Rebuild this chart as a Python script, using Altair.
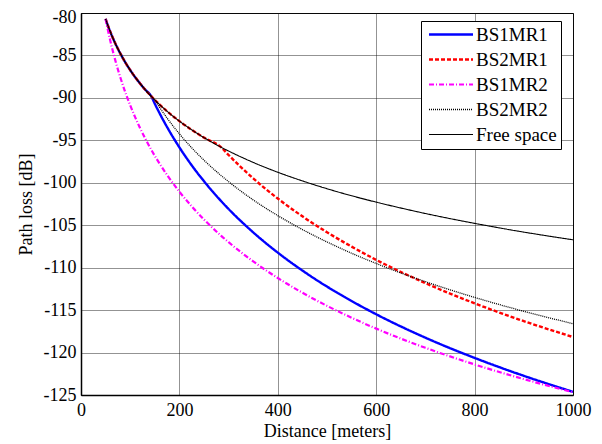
import altair as alt
import pandas as pd

# Distance grid (meters)
distance = [50, 55, 60, 65, 70, 75, 80, 90, 100, 110, 120, 130, 143, 150, 160, 175,
            200, 225, 250, 285, 300, 350, 400, 450, 500, 550, 600, 700, 800, 900, 1000]

series_names = ["BS1MR1", "BS2MR1", "BS1MR2", "BS2MR2", "Free space"]

bs1mr1 = [-80.70, -81.53, -82.28, -82.98, -83.62, -84.22, -84.78, -85.81, -86.72, -87.55,
          -88.30, -89.00, -89.83, -90.69, -91.84, -93.44, -95.83, -97.94, -99.82, -102.17,
          -103.09, -105.84, -108.23, -110.34, -112.23, -113.93, -115.49, -118.25, -120.63,
          -122.74, -124.63]
bs2mr1 = [-80.70, -81.53, -82.28, -82.98, -83.62, -84.22, -84.78, -85.81, -86.72, -87.55,
          -88.30, -89.00, -89.83, -90.24, -90.80, -91.58, -92.74, -93.76, -94.68, -95.82,
          -96.73, -99.48, -101.86, -103.95, -105.83, -107.52, -109.08, -111.82, -114.20,
          -116.30, -118.17]
bs1mr2 = [-80.70, -82.10, -83.38, -84.55, -85.64, -86.65, -87.60, -89.33, -90.87, -92.27,
          -93.55, -94.73, -96.13, -96.83, -97.77, -99.09, -101.05, -102.78, -104.33, -106.25,
          -107.00, -109.26, -111.22, -112.95, -114.50, -115.90, -117.18, -119.44, -121.40,
          -123.13, -124.67]
bs2mr2 = [-80.70, -81.53, -82.28, -82.98, -83.62, -84.22, -84.78, -85.81, -86.72, -87.55,
          -88.30, -89.00, -89.83, -90.24, -91.14, -92.38, -94.24, -95.88, -97.34, -99.16,
          -99.87, -102.02, -103.87, -105.51, -106.97, -108.30, -109.51, -111.65, -113.50,
          -115.14, -116.60]
free_space = [-80.70, -81.53, -82.28, -82.98, -83.62, -84.22, -84.78, -85.81, -86.72, -87.55,
              -88.30, -89.00, -89.83, -90.24, -90.80, -91.58, -92.74, -93.76, -94.68, -95.82,
              -96.26, -97.60, -98.76, -99.78, -100.70, -101.53, -102.28, -103.62, -104.78,
              -105.81, -106.72]

x_ticks = [0, 200, 400, 600, 800, 1000]
y_ticks = [-125, -120, -115, -110, -105, -100, -95, -90, -85, -80]

colors = ["#0000ff", "#ff0000", "#ff00ff", "#000000", "#000000"]
dashes = [[1, 0], [4, 2], [5, 2, 1, 2], [1, 1], [1, 0]]
widths = [2.4, 2.4, 2.2, 1.3, 1.1]

rows = []
for name, vals in zip(series_names, [bs1mr1, bs2mr1, bs1mr2, bs2mr2, free_space]):
    for d, v in zip(distance, vals):
        rows.append({"series": name, "d": d, "loss": v})
df = pd.DataFrame(rows)

FONT = "Liberation Serif"

chart = alt.Chart(df).mark_line(interpolate="monotone", clip=True).encode(
    x=alt.X("d:Q", scale=alt.Scale(domain=[0, 1000], nice=False),
            axis=alt.Axis(values=x_ticks, title="Distance [meters]", labelExpr="'' + datum.value",
                          labelFont=FONT, titleFont=FONT,
                          labelPadding=6, titlePadding=3, labelFlush=False, labelOverlap=False)),
    y=alt.Y("loss:Q", scale=alt.Scale(domain=[-125, -80], nice=False, zero=False),
            axis=alt.Axis(values=y_ticks, title="Path loss [dB]", labelExpr="'' + datum.value",
                          labelFont=FONT, titleFont=FONT,
                          labelPadding=5, titlePadding=8, labelFlush=False, labelOverlap=False,
                          labelOffset={"condition": {"test": "datum.value == -80", "value": 4},
                                       "value": 0})),
    color=alt.Color("series:N", scale=alt.Scale(domain=series_names, range=colors),
                    legend=alt.Legend(orient="none", legendX=340, legendY=8, title=None,
                                      symbolType="M-1,0H7", symbolSize=121,
                                      labelOffset=32, labelFont=FONT, labelFontSize=19,
                                      labelColor="black", strokeColor="black",
                                      fillColor="white", padding=4, rowPadding=5,
                                      cornerRadius=0)),
    strokeDash=alt.StrokeDash("series:N", scale=alt.Scale(domain=series_names, range=dashes)),
    strokeWidth=alt.StrokeWidth("series:N", scale=alt.Scale(type="ordinal", domain=series_names,
                                                            range=widths)),
).properties(
    width=492, height=382,
    autosize=alt.AutoSizeParams(type="none"),
    padding={"left": 73, "top": 5, "right": 21, "bottom": 48},
).configure(
    font=FONT
).configure_view(
    stroke="black", strokeWidth=1
).configure_axis(
    labelFont=FONT, titleFont=FONT, labelFontSize=18, titleFontSize=18,
    labelColor="black", titleColor="black", titleFontWeight="normal",
    domainColor="black", domainWidth=1.5, ticks=False,
    gridColor="#111111", gridDash=[1, 1], gridOpacity=0.9, gridWidth=1,
)

chart.save("out.html", embed_options={"renderer": "svg", "actions": False})
